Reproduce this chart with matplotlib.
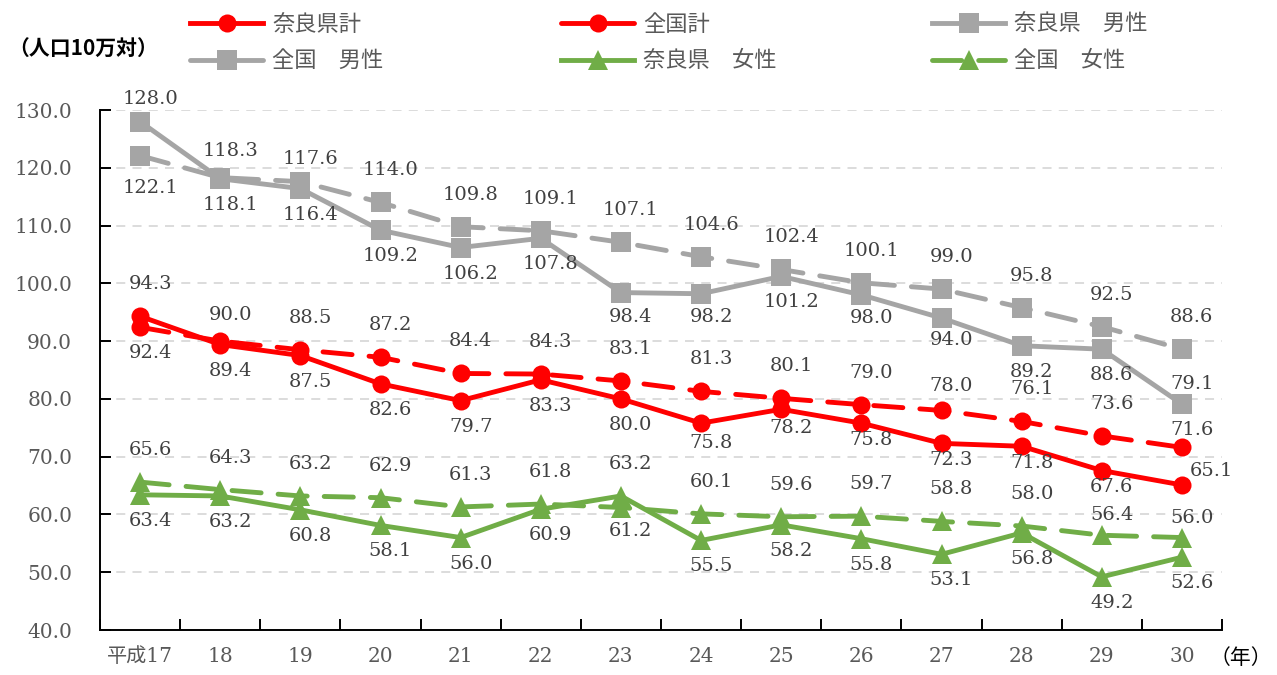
import numpy as np
import matplotlib
matplotlib.use('Agg')
import matplotlib.pyplot as plt

plt.rcParams['font.family'] = ['Noto Sans CJK JP', 'DejaVu Sans']

years = ['平成17', '18', '19', '20', '21', '22', '23',
         '24', '25', '26', '27', '28', '29', '30']

nara_total = [94.3, 89.4, 87.5, 82.6, 79.7, 83.3, 80.0,
              75.8, 78.2, 75.8, 72.3, 71.8, 67.6, 65.1]
japan_total = [92.4, 90.0, 88.5, 87.2, 84.4, 84.3, 83.1,
               81.3, 80.1, 79.0, 78.0, 76.1, 73.6, 71.6]
nara_male = [128.0, 118.1, 116.4, 109.2, 106.2, 107.8, 98.4,
             98.2, 101.2, 98.0, 94.0, 89.2, 88.6, 79.1]
japan_male = [122.1, 118.3, 117.6, 114.0, 109.8, 109.1, 107.1,
              104.6, 102.4, 100.1, 99.0, 95.8, 92.5, 88.6]
nara_female = [63.4, 63.2, 60.8, 58.1, 56.0, 60.9, 63.2,
               55.5, 58.2, 55.8, 53.1, 56.8, 49.2, 52.6]
japan_female = [65.6, 64.3, 63.2, 62.9, 61.3, 61.8, 61.2,
                60.1, 59.6, 59.7, 58.8, 58.0, 56.4, 56.0]

RED = '#FF0000'
GRAY = '#A5A5A5'
GREEN = '#70AD47'
LBL = '#404040'
TICK = '#595959'

# where each value label sits: a = above, b = below, r = right
place = {
    'nara_total':   ['a'] + ['b'] * 12 + ['r'],
    'japan_total':  ['b'] + ['a'] * 13,
    'nara_male':    ['a'] + ['b'] * 12 + ['a'],
    'japan_male':   ['b'] + ['a'] * 13,
    'nara_female':  ['b'] * 6 + ['a'] + ['b'] * 7,
    'japan_female': ['a'] * 6 + ['b'] + ['a'] * 7,
}
# labels pulled closer to their marker (pixels, + is up)
nudge = {
    ('nara_total', 7): -20, ('nara_total', 8): -19, ('nara_total', 9): -17,
    ('nara_total', 10): -17, ('nara_total', 11): -17, ('nara_total', 12): -16,
    ('japan_total', 13): 17, ('japan_total', 10): 24, ('japan_total', 1): 26,
    ('japan_female', 12): 20, ('japan_female', 13): 20,
    ('nara_male', 0): 23, ('nara_male', 13): 20,
    ('japan_male', 1): 27, ('japan_male', 2): 23, ('japan_male', 0): -32,
    ('nara_male', 6): -24, ('nara_male', 7): -23, ('nara_male', 9): -23,
    ('nara_male', 10): -22, ('japan_female', 6): -23,
}
PX = 72 / 100

fig = plt.figure(figsize=(12.77, 6.75), dpi=100)
ax = fig.add_axes([100 / 1277, 45 / 675, 1122 / 1277, 520 / 675])

x = np.arange(len(years))
lw = 3.5
series = [
    ('nara_male', nara_male, GRAY, '-', 's', 14, '奈良県　男性'),
    ('japan_male', japan_male, GRAY, '--', 's', 14, '全国　男性'),
    ('nara_female', nara_female, GREEN, '-', '^', 14, '奈良県　女性'),
    ('japan_female', japan_female, GREEN, '--', '^', 14, '全国　女性'),
    ('japan_total', japan_total, RED, '--', 'o', 13, '全国計'),
    ('nara_total', nara_total, RED, '-', 'o', 13, '奈良県計'),
]

handles = {}
for key, vals, col, ls, mk, ms, name in series:
    line, = ax.plot(x, vals, color=col, linestyle=ls, linewidth=lw,
                    marker=mk, markersize=ms, markeredgewidth=0,
                    dash_capstyle='round', label=name, zorder=3)
    if ls == '--':
        line.set_dashes((6, 3.5))
    handles[key] = line
    for i, v in enumerate(vals):
        p = place[key][i]
        if p == 'r':
            dx, dy, ha = 8, 14, 'left'
        else:
            dx, dy, ha = 10, (32 if p == 'a' else -26), 'center'
        dy = nudge.get((key, i), dy)
        ax.annotate(f'{v:.1f}', (x[i], v), textcoords='offset points',
                    xytext=(dx * PX, dy * PX), ha=ha, va='center',
                    fontsize=14, color=LBL, family='DejaVu Serif', zorder=4)

ax.set_xlim(-0.5, len(years) - 0.5)
ax.set_ylim(40, 130)
yt = np.arange(40, 131, 10)
ax.set_yticks(yt)
ax.set_yticklabels([f'{t:.1f}' for t in yt],
                   family='DejaVu Serif', fontsize=14.5, color=TICK)

# category boundaries carry the tick marks, centers carry the labels
ax.set_xticks(np.arange(-0.5, len(years), 1.0))
ax.set_xticklabels([])
ax.set_xticks(x, minor=True)
ax.set_xticklabels(years, minor=True, fontsize=14.5, color=TICK,
                   family=['DejaVu Serif', 'Noto Sans CJK JP'])
ax.tick_params(axis='x', which='major', direction='in', length=8, width=1.4)
ax.tick_params(axis='x', which='minor', length=0, pad=12)
ax.tick_params(axis='y', direction='in', length=8, width=1.4, pad=20)

for y in yt[1:]:
    ax.axhline(y, color='#D9D9D9', linewidth=1.3, linestyle=(0, (5, 4)), zorder=1)

for s in ['top', 'right']:
    ax.spines[s].set_visible(False)
for s in ['left', 'bottom']:
    ax.spines[s].set_linewidth(1.4)
    ax.spines[s].set_color('black')

cols = [['nara_total', 'japan_male'],
        ['japan_total', 'nara_female'],
        ['nara_male', 'japan_female']]
starts = [190, 561, 932]
for keys, xs in zip(cols, starts):
    fig.legend([handles[k] for k in keys], [handles[k].get_label() for k in keys],
               loc='upper left', bbox_to_anchor=(xs / 1277, 1 - 13 / 675),
               frameon=False, fontsize=16, handlelength=3.3, handletextpad=0.4,
               borderpad=0, borderaxespad=0, labelspacing=0.6,
               labelcolor=TICK)

fig.text(8 / 1277, 1 - 49 / 675, '（人口10万対）', fontsize=15, fontweight='bold',
         va='center', ha='left', color='black')
fig.text(1210 / 1277, 1 - 658 / 675, '（年）', fontsize=15,
         va='center', ha='left', color='black')

fig.savefig('out.png', dpi=100)
